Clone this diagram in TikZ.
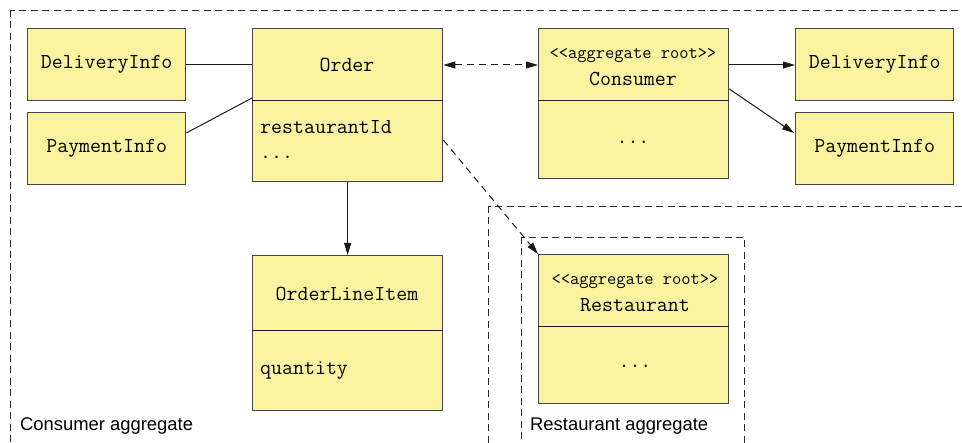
\documentclass[tikz,border=0pt]{standalone}
\usepackage{fontspec}
\setmainfont{Liberation Sans}
\usetikzlibrary{calc,arrows.meta}
\definecolor{boxfill}{RGB}{249,243,160}
\definecolor{boxline}{RGB}{70,70,70}
\begin{document}
\begin{tikzpicture}[x=1pt,y=-1pt,
  cls/.style={draw=boxline, line width=1.3pt, fill=boxfill, anchor=north west, inner sep=0pt},
  lbl/.style={inner sep=0pt, font=\ttfamily\fontsize{21.3}{24.5}\selectfont},
  stereo/.style={inner sep=0pt, font=\ttfamily\fontsize{18}{20}\selectfont},
  agg/.style={inner sep=0pt, anchor=west, font=\fontsize{18.4}{22}\selectfont},
  aggbox/.style={draw=black!85, line width=0.9pt, dash pattern=on 7pt off 4.5pt},
  conn/.style={draw=black!90, line width=1pt},
  tip/.style={-{Triangle[length=12pt,width=7pt]}},
]
\useasboundingbox (0,0) rectangle (962,443);
\clip (0,0) rectangle (962,443);
% aggregate boundaries
\draw[aggbox] (10,10) rectangle (990,470);
\draw[aggbox] (488,206) rectangle (990,470);
\draw[aggbox] (521,237) rectangle (744,470);
\node[agg] (cagg) at (20,426) {Consumer aggregate};
\node[agg] (ragg) at (530,426) {Restaurant aggregate};
% classes
\node[cls, minimum width=158pt, minimum height=72pt] (di1) at (27,28) {};
\node[cls, minimum width=158pt, minimum height=72pt] (pi1) at (27,112) {};
\node[cls, minimum width=190pt, minimum height=153pt] (order) at (252,28) {};
\node[cls, minimum width=190pt, minimum height=155pt] (oli) at (252,255) {};
\node[cls, minimum width=190pt, minimum height=150pt] (cons) at (538,28) {};
\node[cls, minimum width=158pt, minimum height=72pt] (di2) at (795,28) {};
\node[cls, minimum width=158pt, minimum height=72pt] (pi2) at (795,112) {};
\node[cls, minimum width=190pt, minimum height=149pt] (rest) at (538,254) {};
% compartment dividers
\draw[conn] ($(order.north west)+(0,73)$) coordinate (od1) -- (od1 -| order.east);
\draw[conn] ($(oli.north west)+(0,76)$) coordinate (od2) -- (od2 -| oli.east);
\draw[conn] ($(cons.north west)+(0,73)$) coordinate (od3) -- (od3 -| cons.east);
\draw[conn] ($(rest.north west)+(0,73)$) coordinate (od4) -- (od4 -| rest.east);
% texts
\node[lbl] (t1) at (di1.center) {DeliveryInfo};
\node[lbl] (t2) at (pi1.center) {PaymentInfo};
\node[lbl] (t3) at (347,65) {Order};
\node[lbl, anchor=base west, align=left] (t4) at (260,158.5) {restaurantId\\...};
\node[lbl] (t6) at (347,294) {OrderLineItem};
\node[lbl, anchor=west] (t7) at (260,371) {quantity};
\node[stereo] (t8) at (633,56) {<{}<aggregate root>{}>};
\node[lbl] (t9) at (633,79) {Consumer};
\node[lbl] (t10) at (633,142) {...};
\node[lbl] (t11) at (di2.center) {DeliveryInfo};
\node[lbl] (t12) at (pi2.center) {PaymentInfo};
\node[stereo] (t13) at (635,282) {<{}<aggregate root>{}>};
\node[lbl] (t14) at (635,305) {Restaurant};
\node[lbl] (t15) at (635,366) {...};
% connectors
\draw[conn] (di1.east) -- (order.west |- di1.east);
\draw[conn] ($(pi1.north east)+(0,21)$) -- ($(order.north west)+(0,70)$);
\draw[conn, {Triangle[length=12pt,width=7pt]}-{Triangle[length=12pt,width=7pt]}, dash pattern=on 7pt off 5pt]
  ($(order.north east)+(0,37)$) -- ($(cons.north west)+(0,37)$);
\draw[conn, tip] ($(cons.north east)+(0,37)$) -- ($(di2.north west)+(0,37)$);
\draw[conn, tip] ($(cons.north east)+(0,61)$) -- ($(pi2.north west)+(-1,21)$);
\draw[conn, tip] (order.south) -- (oli.north);
\draw[conn, tip, dash pattern=on 7pt off 5pt] ($(order.north east)+(0,112)$) -- (rest.north west);
\end{tikzpicture}
\end{document}
